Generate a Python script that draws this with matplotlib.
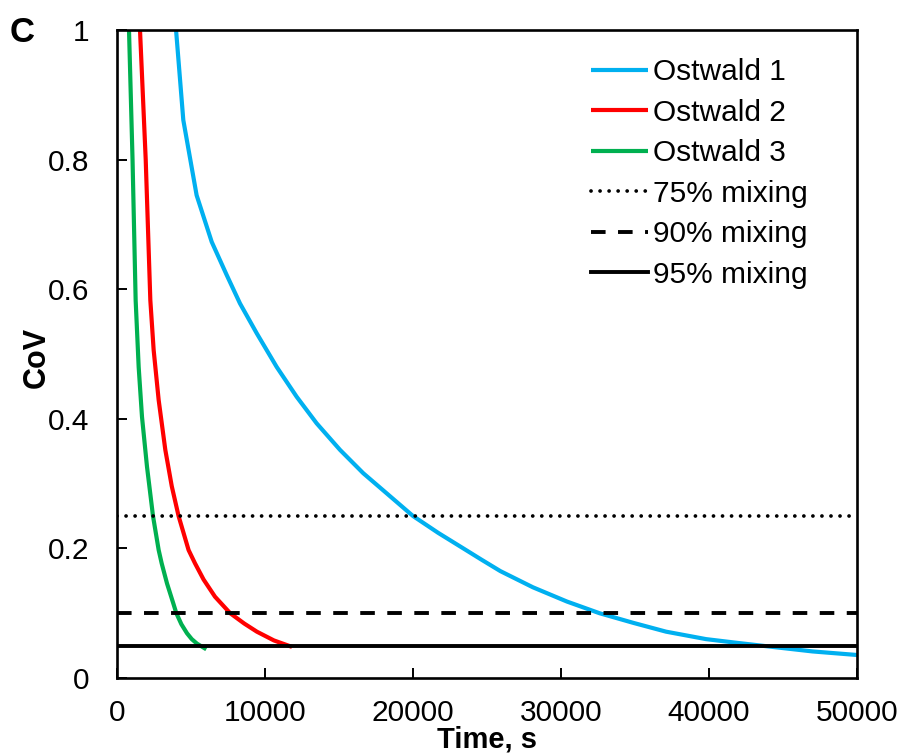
import matplotlib
matplotlib.use("Agg")
import matplotlib.pyplot as plt

plt.rcParams['font.family'] = ['Liberation Sans', 'DejaVu Sans']

# CoV decay over time for three Ostwald runs
t_ostwald1 = [3990, 4480, 5380, 6400, 7410, 8310, 9440, 10790, 12140, 13490, 15070,
              16640, 18220, 20000, 21700, 23400, 24600, 25900, 28100, 30400, 32600,
              34900, 37100, 39800, 41800, 43900, 47000, 50000]
cov_ostwald1 = [1.0, 0.861, 0.745, 0.673, 0.622, 0.578, 0.532, 0.480, 0.434, 0.393, 0.352,
                0.316, 0.285, 0.25, 0.224, 0.20, 0.183, 0.165, 0.140, 0.118, 0.100,
                0.085, 0.0715, 0.060, 0.0545, 0.049, 0.041, 0.0355]

t_ostwald2 = [1554, 1940, 2252, 2477, 2815, 3265, 3700, 4160, 4836, 5270, 5849, 6620,
              7646, 8600, 9450, 10600, 11824]
cov_ostwald2 = [1.0, 0.80, 0.583, 0.506, 0.429, 0.352, 0.296, 0.25, 0.1975, 0.177, 0.152,
                0.1255, 0.100, 0.084, 0.0715, 0.058, 0.048]

t_ostwald3 = [811, 1050, 1260, 1464, 1689, 2027, 2432, 2815, 3018, 3378, 3806, 4009,
              4350, 4730, 5050, 5405, 6036]
cov_ostwald3 = [1.0, 0.80, 0.583, 0.480, 0.403, 0.326, 0.25, 0.1975, 0.177, 0.146, 0.115,
                0.100, 0.083, 0.069, 0.060, 0.053, 0.0443]

# Mixing thresholds
mix_labels = ['75% mixing', '90% mixing', '95% mixing']
mix_levels = [0.25, 0.10, 0.05]
x_range = [0, 50000]

fig = plt.figure(figsize=(9.02, 7.55), dpi=100)
ax = fig.add_axes([117 / 902, 1 - 678 / 755, (857 - 117) / 902, (678 - 30) / 755])

lw_curve = 3.0
for t, c, col, lab in [(t_ostwald1, cov_ostwald1, '#00B0F0', 'Ostwald 1'),
                       (t_ostwald2, cov_ostwald2, '#FF0000', 'Ostwald 2'),
                       (t_ostwald3, cov_ostwald3, '#00B050', 'Ostwald 3')]:
    ax.plot(t, c, color=col, lw=lw_curve, label=lab,
            solid_joinstyle='round', solid_capstyle='butt')

styles = [dict(linestyle=(0, (0.01, 2.4)), dash_capstyle='round', lw=2.7),
          dict(linestyle=(0, (3.75, 3.2)), lw=2.8),
          dict(linestyle='-', lw=2.8)]
for lab, lev, st in zip(mix_labels, mix_levels, styles):
    ax.plot(x_range, [lev, lev], color='black', label=lab, **st)

ax.set_xlim(0, 50000)
ax.set_ylim(0, 1)
ax.set_xticks([0, 10000, 20000, 30000, 40000, 50000])
ax.set_xticklabels(['0', '10000', '20000', '30000', '40000', '50000'])
ax.set_yticks([0, 0.2, 0.4, 0.6, 0.8, 1.0])
ax.set_yticklabels(['0', '0.2', '0.4', '0.6', '0.8', '1'])

for sp in ax.spines.values():
    sp.set_linewidth(1.9)
    sp.set_color('black')
ax.tick_params(axis='both', direction='in', length=7, width=1.4, labelsize=21.5)
ax.tick_params(axis='x', pad=15)
ax.tick_params(axis='y', pad=20)

ax.set_xlabel('Time, s', fontsize=21, fontweight='bold')
ax.set_ylabel('CoV', fontsize=22, fontweight='bold')
ax.xaxis.set_label_coords(0.5, (678 - 725) / 648)
ax.yaxis.set_label_coords((52 - 117) / 740, (678 - 357) / 648)

ax.legend(loc='upper left', bbox_to_anchor=(591 / 902, 1 - 58 / 755),
          bbox_transform=fig.transFigure, frameon=False, fontsize=21.5,
          handlelength=1.9, handletextpad=0.17, labelspacing=0.42,
          borderaxespad=0, borderpad=0)

fig.text(10 / 902, 1 - 32 / 755, 'C', fontsize=25, fontweight='bold', va='center', ha='left')

fig.savefig('out.png', dpi=100)
